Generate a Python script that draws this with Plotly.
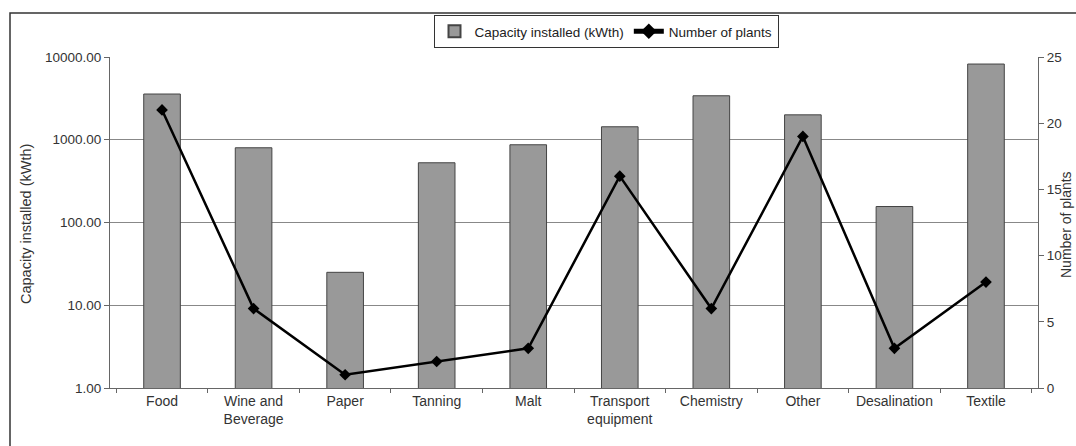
import plotly.graph_objects as go

categories = ["Food", "Wine and<br>Beverage", "Paper", "Tanning", "Malt",
              "Transport<br>equipment", "Chemistry", "Other", "Desalination", "Textile"]
capacity_kwth = [3570, 800, 25, 527, 870, 1435, 3400, 2000, 156, 8220]
num_plants = [21, 6, 1, 2, 3, 16, 6, 19, 3, 8]
cap_ticks = [1, 10, 100, 1000, 10000]
plant_ticks = [0, 5, 10, 15, 20, 25]

FONT = "Liberation Sans, Arial, sans-serif"
PL, PR, PT, PB = 110, 1038, 57, 388
PW, PH = PR - PL, PB - PT

fig = go.Figure()
fig.add_trace(go.Bar(
    x=categories, y=capacity_kwth, name="Capacity installed (kWth)",
    marker=dict(color="#999999", line=dict(color="#444444", width=1)),
    width=0.4,
))
fig.add_trace(go.Scatter(
    x=categories, y=num_plants, name="Number of plants", yaxis="y2",
    mode="lines+markers",
    line=dict(color="#000000", width=2.5),
    marker=dict(symbol="diamond", size=9, color="#000000"),
))

fig.update_layout(
    width=1076, height=446,
    margin=dict(l=PL, r=1076 - PR, t=PT, b=446 - PB, autoexpand=False),
    paper_bgcolor="white", plot_bgcolor="white",
    font=dict(family=FONT, size=13, color="#333333"),
    showlegend=True,
    legend=dict(orientation="h", x=(606 - PL) / PW, xanchor="center",
                y=(PB - 15) / PH, yanchor="top",
                bordercolor="#333333", borderwidth=1, bgcolor="white",
                font=dict(size=13.5, color="#222222"),
                tracegroupgap=0, itemsizing="constant"),
    xaxis=dict(type="category", tickson="boundaries", ticks="outside", ticklen=4,
               tickcolor="#666666", showline=True, linecolor="#666666", linewidth=1,
               showgrid=False, tickfont=dict(size=14, color="#333333")),
    yaxis=dict(type="log", range=[0, 4], tickvals=cap_ticks, tickformat=".2f",
               ticks="outside", ticklen=5, tickcolor="#666666",
               showline=True, linecolor="#666666", linewidth=1,
               showgrid=True, gridcolor="#888888", gridwidth=1,
               tickfont=dict(size=13.5, color="#333333")),
    yaxis2=dict(overlaying="y", side="right", range=[0, 25], tickvals=plant_ticks,
                ticks="outside", ticklen=5, tickcolor="#666666",
                showline=True, linecolor="#666666", linewidth=1, showgrid=False,
                zeroline=False, tickfont=dict(size=13.5, color="#333333")),
)

fig.add_annotation(text="Capacity installed (kWth)", xref="paper", yref="paper",
                   x=(26 - PL) / PW, y=(PB - 224) / PH, xanchor="center", yanchor="middle",
                   textangle=-90, showarrow=False,
                   font=dict(size=14.5, color="#333333"))
fig.add_annotation(text="Number of plants", xref="paper", yref="paper",
                   x=(1066 - PL) / PW, y=(PB - 225) / PH, xanchor="center", yanchor="middle",
                   textangle=-90, showarrow=False,
                   font=dict(size=14, color="#333333"))

fig.add_shape(type="rect", xref="paper", yref="paper",
              x0=(10 - PL) / PW, x1=1.2, y0=-0.4, y1=(PB - 13) / PH,
              line=dict(color="#333333", width=1.5), layer="below")

fig.write_html("out.html", config={"displayModeBar": False},
               post_script="document.body.style.margin='0';")
